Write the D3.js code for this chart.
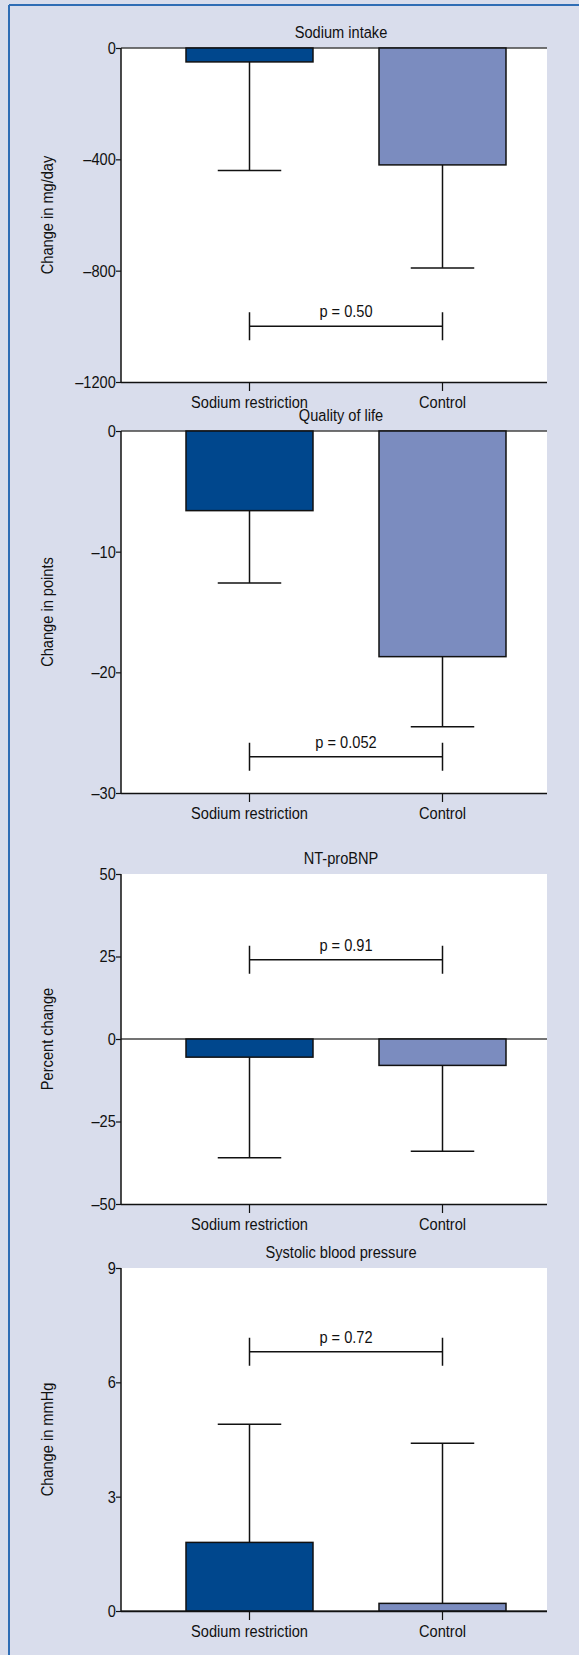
<!DOCTYPE html>
<html>
<head>
<meta charset="utf-8">
<script src="https://cdn.jsdelivr.net/npm/d3@7"></script>
<style>
  body { margin: 0; padding: 0; background: #d9ddec; }
  svg { display: block; }
  text { font-family: "Liberation Sans", Arial, sans-serif; fill: #111; }
</style>
</head>
<body>
<svg id="chart" width="579" height="1655"></svg>
<script>
// groups on the x axis
const groups = ['Sodium restriction', 'Control'];

// one entry per panel
const panelTitles = ['Sodium intake', 'Quality of life', 'NT-proBNP', 'Systolic blood pressure'];
const axisTitles = ['Change in mg/day', 'Change in points', 'Percent change', 'Change in mmHg'];
const yDomains = [[-1200, 0], [-30, 0], [-50, 50], [0, 9]];
const yTicks = [[0, -400, -800, -1200], [0, -10, -20, -30], [50, 25, 0, -25, -50], [0, 3, 6, 9]];

// bar heights (mean change) and end of the one-sided error bar
const sodiumMeans = [-50, -6.6, -5.5, 1.8];
const sodiumErrEnds = [-440, -12.6, -36, 4.9];
const controlMeans = [-420, -18.7, -8, 0.2];
const controlErrEnds = [-790, -24.5, -34, 4.4];

// p value bracket
const pValues = ['0.50', '0.052', '0.91', '0.72'];
const pBracketAt = [-1000, -27, 24, 6.8];

const svg = d3.select('#chart');
const W = +svg.attr('width'), H = +svg.attr('height');
const FS = 17, SX = 0.86; // font size and horizontal squeeze (condensed look)

// lavender frame with blue border on top and left
svg.append('rect').attr('width', W).attr('height', H).attr('fill', '#d9ddec');
svg.append('line').attr('x1', 9).attr('x2', W).attr('y1', 5).attr('y2', 5)
  .attr('stroke', '#2f6db5').attr('stroke-width', 2);
svg.append('line').attr('x1', 9).attr('x2', 9).attr('y1', 5).attr('y2', H)
  .attr('stroke', '#2f6db5').attr('stroke-width', 2);

// panel boxes (top, bottom of the plot area)
const panelTops = [48, 431, 874, 1268];
const panelBottoms = [382, 793, 1204, 1611];
const plotLeft = 121, plotRight = 547;

const x = d3.scaleBand().domain(groups).range([153, 539]).paddingInner(0.342).paddingOuter(0.171);
const colors = d3.scaleOrdinal().domain(groups).range(['#00478d', '#7b8cbf']);

const fmt = d => d < 0 ? '\u2013' + Math.abs(d) : '' + d;

function label(g, tx, ty, str, rot) {
  return g.append('text')
    .attr('transform', `translate(${tx},${ty})${rot ? ' rotate(' + rot + ')' : ''} scale(${SX},1)`)
    .attr('text-anchor', 'middle').attr('font-size', FS).text(str);
}

panelTitles.forEach((title, i) => {
  const y = d3.scaleLinear().domain(yDomains[i]).range([panelBottoms[i], panelTops[i]]);
  const g = svg.append('g');

  g.append('rect')
    .attr('x', plotLeft).attr('y', panelTops[i])
    .attr('width', plotRight - plotLeft).attr('height', panelBottoms[i] - panelTops[i])
    .attr('fill', '#fff');

  label(g, 341, panelTops[i] - 10, title);

  // zero line
  g.append('line').attr('x1', plotLeft).attr('x2', plotRight)
    .attr('y1', y(0)).attr('y2', y(0)).attr('stroke', '#444').attr('stroke-width', 1.5);

  const data = [
    { group: groups[0], mean: sodiumMeans[i], err: sodiumErrEnds[i] },
    { group: groups[1], mean: controlMeans[i], err: controlErrEnds[i] }
  ];

  // error bars first, bars cover their root
  const cap = x.bandwidth() / 2;
  data.forEach(d => {
    const cx = x(d.group) + x.bandwidth() / 2;
    g.append('line').attr('x1', cx).attr('x2', cx).attr('y1', y(d.mean)).attr('y2', y(d.err))
      .attr('stroke', '#111').attr('stroke-width', 1.5);
    g.append('line').attr('x1', cx - cap / 2).attr('x2', cx + cap / 2).attr('y1', y(d.err)).attr('y2', y(d.err))
      .attr('stroke', '#111').attr('stroke-width', 1.5);
  });

  g.selectAll('.bar').data(data).enter().append('rect')
    .attr('class', 'bar')
    .attr('x', d => x(d.group))
    .attr('width', x.bandwidth())
    .attr('y', d => Math.min(y(0), y(d.mean)))
    .attr('height', d => Math.abs(y(d.mean) - y(0)))
    .attr('fill', d => colors(d.group))
    .attr('stroke', '#111').attr('stroke-width', 1.5);

  // p bracket
  const x1 = x(groups[0]) + x.bandwidth() / 2, x2 = x(groups[1]) + x.bandwidth() / 2;
  const py = y(pBracketAt[i]);
  g.append('path')
    .attr('d', `M${x1},${py - 14}V${py + 14}M${x1},${py}H${x2}M${x2},${py - 14}V${py + 14}`)
    .attr('fill', 'none').attr('stroke', '#111').attr('stroke-width', 1.5);
  label(g, (x1 + x2) / 2, py - 9, 'p = ' + pValues[i]);

  // axes
  const yAxis = g.append('g').attr('transform', `translate(${plotLeft},0)`)
    .call(d3.axisLeft(y).tickValues(yTicks[i]).tickFormat(fmt).tickSize(5).tickPadding(1));
  const xAxis = g.append('g').attr('transform', `translate(0,${panelBottoms[i]})`)
    .call(d3.axisBottom(x).tickSize(9).tickPadding(5));
  [yAxis, xAxis].forEach(a => {
    a.select('.domain').attr('stroke', '#111').attr('stroke-width', 1.5);
    a.selectAll('.tick line').attr('stroke', '#111').attr('stroke-width', 1.2);
    a.selectAll('text').attr('font-size', FS).attr('fill', '#111')
      .attr('transform', `scale(${SX},1)`)
      .style('font-family', '"Liberation Sans", Arial, sans-serif');
  });
  xAxis.select('.domain').attr('d', `M${plotLeft},0.5H${plotRight}`);
  yAxis.select('.domain').attr('d', `M0,${panelTops[i]}V${panelBottoms[i]}`);

  label(g, 53, (panelTops[i] + panelBottoms[i]) / 2, axisTitles[i], -90);
});
</script>
</body>
</html>
